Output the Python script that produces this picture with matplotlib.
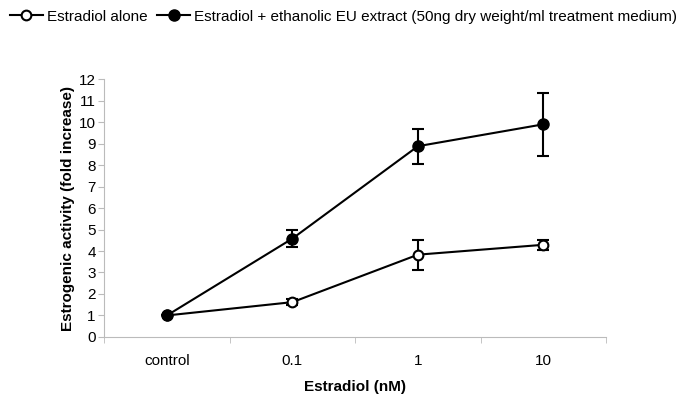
import matplotlib.pyplot as plt
from matplotlib.lines import Line2D
import numpy as np

categories = ["control", "0.1", "1", "10"]
alone = [1.0, 1.62, 3.83, 4.29]
alone_err = [0.0, 0.15, 0.7, 0.24]
extract = [1.0, 4.58, 8.88, 9.9]
extract_err = [0.0, 0.4, 0.82, 1.48]

plt.rcParams["font.family"] = ["Liberation Sans", "DejaVu Sans"]

fig = plt.figure(figsize=(6.85, 4.04), dpi=100)
ax = fig.add_axes([0.152, 0.166, 0.733, 0.638])

x = np.arange(len(categories))
ax.errorbar(x, alone, yerr=alone_err, color="black", lw=1.5, marker="o",
            ms=7, mfc="white", mec="black", mew=1.5, capsize=4.5,
            elinewidth=1.5, capthick=1.5, zorder=3)
ax.errorbar(x, extract, yerr=extract_err, color="black", lw=1.5, marker="o",
            ms=8, mfc="black", mec="black", capsize=4.5,
            elinewidth=1.5, capthick=1.5, zorder=3)

ax.set_xlim(-0.5, len(categories) - 0.5)
ax.set_ylim(0, 12)
ax.set_yticks(range(0, 13))
ax.set_xticks(x)
ax.set_xticklabels(categories)
ax.set_xticks(np.arange(-0.5, len(categories)), minor=True)
ax.tick_params(axis="x", which="major", length=0, pad=12, labelsize=11)
ax.tick_params(axis="x", which="minor", length=4, color="#bbbbbb")
ax.tick_params(axis="y", length=4, color="#bbbbbb", labelsize=11, pad=2)

for s in ["top", "right"]:
    ax.spines[s].set_visible(False)
for s in ["left", "bottom"]:
    ax.spines[s].set_color("#bbbbbb")

ax.set_xlabel("Estradiol (nM)", fontweight="bold", fontsize=11, labelpad=9)
ax.set_ylabel("Estrogenic activity (fold increase)", fontweight="bold", fontsize=11, labelpad=3)

h1 = Line2D([], [], color="black", lw=1.5, marker="o", ms=7, mfc="white", mew=1.5)
h2 = Line2D([], [], color="black", lw=1.5, marker="o", ms=8, mfc="black")
fig.legend([h1, h2], ["Estradiol alone",
                      "Estradiol + ethanolic EU extract (50ng dry weight/ml treatment medium)"],
           loc="upper left", bbox_to_anchor=(-0.006, 1.01), ncol=2, frameon=False,
           fontsize=11, handlelength=2.2, handletextpad=0.25, columnspacing=0.6)

fig.savefig("out.png", dpi=100)
